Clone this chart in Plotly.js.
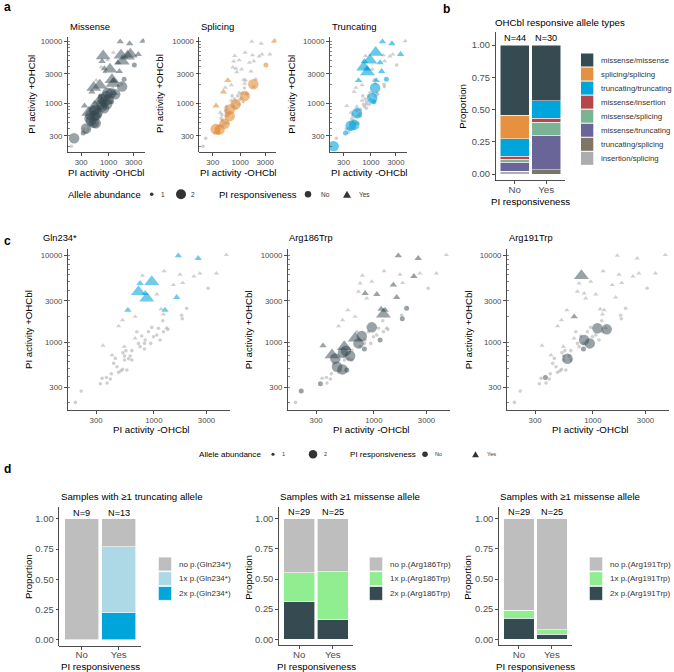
<!DOCTYPE html>
<html>
<head>
<meta charset="utf-8">
<script src="https://cdn.plot.ly/plotly-3.0.1.min.js"></script>
<style>
html,body{margin:0;padding:0;background:#ffffff;}
#chart{width:674px;height:672px;}
</style>
</head>
<body>
<div id="chart"></div>
<script>
// ================= DATA =================
// genotype category labels
const MM = 'missense/missense', SS = 'splicing/splicing', TT = 'truncating/truncating',
      MI = 'missense/insertion', MS = 'missense/splicing', MT = 'missense/truncating',
      TS = 'truncating/splicing', IS = 'insertion/splicing';

// one entry per sample (30 responsive, 44 non-responsive)
const activityMinus = [
  4540,1667,2523,1239,789,1726,2612,2307,3690,958,752,726,863,834,1503,1824,1064,1611,582,1265,1164,1222,521,678,480,1309,678,347,540,418,
  3105,1982,1786,1811,958,1102,1222,1337,1140,778,726,822,834,822,558,632,448,543,543,632,480,504,521,570,412,340,372,328,377,404,220,195,938,611,590,525,1064,1205,893,702,464,752,433,993
];
const activityPlus = [
  10180,10000,9310,6650,5880,6040,6250,5780,6250,5010,4800,3845,3220,3675,4590,4840,3580,3305,2360,2360,2425,2104,1810,1977,1543,1463,1112,916,892,714,
  4200,2466,2050,1875,1489,1452,1327,1413,1064,1183,973,973,1064,838,802,802,653,695,625,625,451,471,488,480,435,385,394,333,340,378,274,203,973,695,648,760,1216,1778,1327,1327,524,892,573,1161
];
const responsive = [
  'Yes','Yes','Yes','Yes','Yes','Yes','Yes','Yes','Yes','Yes','Yes','Yes','Yes','Yes','Yes','Yes','Yes','Yes','Yes','Yes','Yes','Yes','Yes','Yes','Yes','Yes','Yes','Yes','Yes','Yes',
  'No','No','No','No','No','No','No','No','No','No','No','No','No','No','No','No','No','No','No','No','No','No','No','No','No','No','No','No','No','No','No','No','No','No','No','No','No','No','No','No','No','No','No','No'
];
const genotype = [
  MS,MT,MT,TT,MM,MM,MM,MM,MT,TT,MT,TT,TT,MT,MT,MM,MM,MT,TS,MT,MM,MM,MM,MM,MS,MI,MM,MS,MM,MM,
  MS,MT,SS,MM,MM,MM,SS,MM,MT,MM,MM,SS,MM,MM,MM,SS,MM,TT,MM,SS,TT,SS,MM,MM,TT,SS,MM,MT,IS,SS,MM,TT,MM,MM,MM,MM,TT,TT,MM,MI,MM,MM,MM,MM
];
const gln234Count = [
  0,1,1,0,0,0,0,0,0,2,1,2,2,1,0,0,0,1,1,1,0,0,0,0,0,0,0,0,0,0,
  0,0,0,0,0,0,0,0,0,0,0,0,0,0,0,0,0,0,0,0,0,0,0,0,0,0,0,0,0,0,0,0,0,0,0,0,0,0,0,0,0,0,0,0
];
const arg186Count = [
  0,1,1,0,0,0,0,1,0,0,0,0,0,1,1,0,1,1,0,1,1,2,0,0,0,0,2,1,2,2,
  0,1,0,1,2,0,0,0,1,2,2,0,0,1,2,0,2,0,0,0,0,0,2,1,0,0,0,1,0,0,1,0,0,2,0,2,0,0,0,0,2,0,0,0
];
const arg191Count = [
  0,0,0,0,2,0,0,0,0,0,0,0,0,0,0,0,0,0,0,0,0,0,0,1,0,0,0,0,0,0,
  0,0,0,0,0,2,0,2,0,0,0,0,2,1,0,0,0,0,0,0,0,0,0,0,0,0,1,0,0,0,0,0,2,0,2,0,0,0,0,0,0,0,0,0
];

// categories / labels
const responsivenessLevels = ['No','Yes'];
const genotypeLevels = [MM, SS, TT, MI, MS, MT, TS, IS];          // legend order (top -> bottom)
const genotypeColors = ['#364A52','#E5913F','#00A5DB','#B5474B','#7AB495','#6A6598','#7D7566','#ADADAD'];
const alleleClasses = ['missense','splicing','truncating'];
const alleleTitles = ['Missense','Splicing','Truncating'];
const alleleColors = ['rgba(54,72,80,0.72)','rgba(229,140,52,0.85)','rgba(0,163,218,0.85)'];
const variantNames = ['Gln234*','Arg186Trp','Arg191Trp'];
const variantCounts = [gln234Count, arg186Count, arg191Count];
const variantCarrier = ['truncating','missense','missense'];
const variantColors = ['rgba(0,163,218,0.8)','rgba(54,72,80,0.72)','rgba(54,72,80,0.72)'];
const variantBarColors = [['#BEBEBE','#ADD8E6','#00A5DB'],['#BEBEBE','#90EE90','#364A52'],['#BEBEBE','#90EE90','#364A52']];
const variantTitles = ['Samples with \u22651 truncating allele','Samples with \u22651 missense allele','Samples with \u22651 missense allele'];
const abundancePrefix = ['no','1x','2x'];
const tickX = [300,1000,3000];
const tickY = [300,1000,3000,10000];
const logMinor = [200,300,400,500,600,700,800,900,1000,2000,3000,4000,5000,6000,7000,8000,9000,10000];

// ================= LAYOUT HELPERS =================
const W = 674, H = 672;
const FONT = 'Liberation Sans, Arial, Helvetica, sans-serif';
const GRAY = 'rgba(172,172,172,0.8)';
const px = p => p / W, py = p => 1 - p / H;
const layout = {
  width: W, height: H, margin: {l:0,r:0,t:0,b:0}, paper_bgcolor:'#fff', plot_bgcolor:'#fff',
  showlegend:false, barmode:'stack', font:{family:FONT, color:'#000'},
  annotations: [], shapes: []
};
const traces = [];
function ann(text, x, y, o) {
  o = o || {};
  layout.annotations.push({text, x:px(x), y:py(y), xref:'paper', yref:'paper', showarrow:false,
    xanchor:o.xa||'center', yanchor:'middle', textangle:o.rot||0,
    font:{family:FONT, size:o.size||9.5, color:o.color||'#000', weight:o.weight||'normal'}});
}
function axisBase(extra) {
  return Object.assign({showline:true, linecolor:'#222', linewidth:0.8, ticks:'outside', ticklen:3, tickwidth:0.8,
    tickcolor:'#222', showgrid:false, zeroline:false, fixedrange:true,
    tickfont:{family:FONT, size:7.8, color:'#4d4d4d'}}, extra);
}
function setAxes(n, xd, yd, xExtra, yExtra) {
  const s = n === 1 ? '' : String(n);
  layout['xaxis'+s] = axisBase(Object.assign({domain:[px(xd[0]), px(xd[1])], anchor:'y'+s}, xExtra));
  layout['yaxis'+s] = axisBase(Object.assign({domain:[py(yd[1]), py(yd[0])], anchor:'x'+s}, yExtra));
  return s;
}
const logX = {type:'log', range:[2.22,3.69], tickvals:tickX, ticktext:tickX.map(String)};
const logY = {type:'log', range:[2.22,4.08], tickvals:tickY, ticktext:tickY.map(String),
  minor:{tickvals:logMinor, ticks:'inside', ticklen:2, tickwidth:0.6, tickcolor:'#333', showgrid:false}};
const catX = {type:'category', range:[-0.6,1.6], ticklabelstandoff:-3, tickfont:{family:FONT,size:9.7,color:'#4d4d4d'}};
const propY = {range:[-0.05,1.1], tickvals:[0,0.25,0.5,0.75,1], tickformat:'.2f', tickfont:{family:FONT,size:9.4,color:'#4d4d4d'}};

function scatterTrace(counts, color, s) {
  const rank = c => c === 0 ? 0 : (c === 2 ? 1 : 2);
  const idx = activityMinus.map((_, i) => i).sort((a, b) => rank(counts[a]) - rank(counts[b]));
  return {
    type:'scatter', mode:'markers', xaxis:'x'+s, yaxis:'y'+s, hoverinfo:'skip',
    x: idx.map(i => activityMinus[i]), y: idx.map(i => activityPlus[i]),
    marker:{
      symbol: idx.map(i => responsive[i] === 'Yes' ? 'triangle-up' : 'circle'),
      size: idx.map(i => { const t = responsive[i] === 'Yes', c = counts[i];
        return c === 0 ? (t ? 4.6 : 3.6) : c === 1 ? (t ? 6.5 : 5) : (t ? 13 : 10.5); }),
      color: idx.map(i => counts[i] === 0 ? GRAY : color),
      line:{width:0}
    }
  };
}
const partCount = (g, part) => g.split('/').filter(t => t === part).length;

// ================= PANEL a =================
const aX = [[67.7,144.7],[199.3,276.3],[330,407]];
const aY = [36.7,151.7];
alleleClasses.forEach((cls, k) => {
  const s = setAxes(k+1, aX[k], aY, logX, logY);
  traces.push(scatterTrace(genotype.map(g => partCount(g, cls)), alleleColors[k], s));
  ann(alleleTitles[k], aX[k][0], 27, {xa:'left', size:9.5});
  ann('PI activity -OHCbl', (aX[k][0]+aX[k][1])/2, 172.7, {size:9.7});
});
ann('PI activity +OHCbl', 31.7, 94, {rot:-90, size:9.7});
ann('PI activity +OHCbl', 160, 94, {rot:-90, size:9.7});
ann('PI activity +OHCbl', 291.7, 94, {rot:-90, size:9.7});

// ================= PANEL b =================
const sB = setAxes(4, [495.7,565], [32.1,180.5], catX, propY);
const nResp = responsivenessLevels.map(r => responsive.filter(v => v === r).length);
genotypeLevels.slice().reverse().forEach(level => {
  const ci = genotypeLevels.indexOf(level);
  traces.push({type:'bar', xaxis:'x'+sB, yaxis:'y'+sB, x:responsivenessLevels, width:0.92, hoverinfo:'skip',
    y: responsivenessLevels.map((r, k) => genotype.filter((g, i) => g === level && responsive[i] === r).length / nResp[k]),
    marker:{color:genotypeColors[ci], line:{color:'#fff', width:0.5}}});
});
responsivenessLevels.forEach((r, k) => layout.annotations.push({text:'N='+nResp[k], x:r, y:1.052, xref:'x'+sB, yref:'y'+sB,
  showarrow:false, yanchor:'middle', font:{family:FONT,size:9.2,color:'#000'}}));
ann('OHCbl responsive allele types', 560, 22.7, {size:9.7});
ann('Proportion', 463, 106.7, {rot:-90, size:9.7});
ann('PI responsiveness', 530.4, 201.5, {size:9.7});
genotypeLevels.forEach((level, k) => {
  const cy = 60 + k*14.05;
  layout.shapes.push({type:'rect', xref:'paper', yref:'paper', x0:px(581), x1:px(593.3), y0:py(cy+6.5), y1:py(cy-6.5),
    fillcolor:genotypeColors[k], line:{width:0}});
  ann(level, 599, cy, {xa:'left', size:7.8, color:'#333'});
});

// ================= PANEL c =================
const cX = [[67.7,230],[287.7,450],[506.7,669]];
const cY = [248.7,410];
const cTitleX = [41, 287, 506.7];
const cYTitleX = [28, 248.3, 468.3];
variantNames.forEach((v, k) => {
  const s = setAxes(5+k, cX[k], cY, logX, logY);
  traces.push(scatterTrace(variantCounts[k], variantColors[k], s));
  ann(v, cTitleX[k], 238.3, {xa:'left', size:9.3});
  ann('PI activity -OHCbl', (cX[k][0]+cX[k][1])/2 + 2, 430, {size:9.7});
  ann('PI activity +OHCbl', cYTitleX[k], 330, {rot:-90, size:9.7});
});

// ================= PANEL d =================
const dX = [[59.3,141],[279,353],[499,571.7]];
const dY = [[506.8,646],[506.7,645.3],[506.7,645.3]];
const dTitleX = [131.5, 350, 569.5];
const dYTitleX = [28, 247.7, 466.7];
const dSwatchX = [158.3, 369.3, 589.3];
variantNames.forEach((v, k) => {
  const s = setAxes(8+k, dX[k], dY[k], catX, propY);
  const carrier = genotype.map(g => partCount(g, variantCarrier[k]) >= 1);
  const nCar = responsivenessLevels.map(r => responsive.filter((x, i) => x === r && carrier[i]).length);
  const labels = abundancePrefix.map(p => p + ' p.(' + v + ')');
  [2,1,0].forEach(lvl => {
    traces.push({type:'bar', xaxis:'x'+s, yaxis:'y'+s, x:responsivenessLevels, width:0.92, hoverinfo:'skip',
      y: responsivenessLevels.map((r, j) => variantCounts[k].filter((c, i) => carrier[i] && responsive[i] === r && c === lvl).length / nCar[j]),
      marker:{color:variantBarColors[k][lvl], line:{color:'#fff', width:0.6}}});
  });
  responsivenessLevels.forEach((r, j) => layout.annotations.push({text:'N='+nCar[j], x:r, y:1.052, xref:'x'+s, yref:'y'+s,
    showarrow:false, yanchor:'middle', font:{family:FONT,size:9.2,color:'#000'}}));
  ann(variantTitles[k], dTitleX[k], 496, {size:9.7});
  ann('Proportion', dYTitleX[k], 577, {rot:-90, size:9.7});
  ann('PI responsiveness', (dX[k][0]+dX[k][1])/2, 666, {size:9.7});
  labels.forEach((lab, j) => {
    const cy = 564 + j*14.7;
    layout.shapes.push({type:'rect', xref:'paper', yref:'paper', x0:px(dSwatchX[k]), x1:px(dSwatchX[k]+13.4),
      y0:py(cy+7), y1:py(cy-7), fillcolor:variantBarColors[k][j], line:{color:'#fff', width:0.8}});
    ann(lab, dSwatchX[k]+18.5, cy, {xa:'left', size:8, color:'#333'});
  });
});

// ================= point legends (a and c) =================
function dot(cx, cy, d, color) {
  layout.shapes.push({type:'circle', xref:'paper', yref:'paper', x0:px(cx-d/2), x1:px(cx+d/2), y0:py(cy+d/2), y1:py(cy-d/2),
    fillcolor:color, line:{width:0}});
}
function tri(cx, cy, w, color) {
  const h = w*0.87;
  layout.shapes.push({type:'path', xref:'paper', yref:'paper',
    path:'M'+px(cx-w/2)+','+py(cy+h/2)+' L'+px(cx+w/2)+','+py(cy+h/2)+' L'+px(cx)+','+py(cy-h/2)+' Z',
    fillcolor:color, line:{width:0}});
}
function pointLegend(y, sc, x) {
  ann('Allele abundance', x.t1, y, {xa:'left', size:9.5*sc});
  dot(x.d1, y, 3.6*sc, '#333'); ann('1', x.l1, y, {size:6.5*sc, color:'#333'});
  dot(x.d2, y, 10*sc, '#333'); ann('2', x.l2, y, {size:6.5*sc, color:'#333'});
  ann('PI responsiveness', x.t2, y, {xa:'left', size:9.5*sc});
  dot(x.dn, y, 6.5*sc, '#333'); ann(responsivenessLevels[0], x.ln, y, {xa:'left', size:6.5*sc, color:'#333'});
  tri(x.tr, y, 8*sc, '#333'); ann(responsivenessLevels[1], x.ly, y, {xa:'left', size:6.5*sc, color:'#333'});
}
pointLegend(194.3, 1, {t1:66, d1:151.7, l1:163, d2:181, l2:193, t2:217, dn:308, ln:319, tr:347, ly:357});
pointLegend(454.3, 0.85, {t1:197, d1:273, l1:283, d2:313, l2:325, t2:347.6, dn:425, ln:433, tr:475.5, ly:485});

// panel letters
ann('a', 2, 7, {xa:'left', size:12, weight:'bold'});
ann('b', 441, 9, {xa:'left', size:12, weight:'bold'});
ann('c', 2, 241, {xa:'left', size:12, weight:'bold'});
ann('d', 2, 469, {xa:'left', size:12, weight:'bold'});

Plotly.newPlot('chart', traces, layout, {displayModeBar:false, staticPlot:true});
</script>
</body>
</html>
